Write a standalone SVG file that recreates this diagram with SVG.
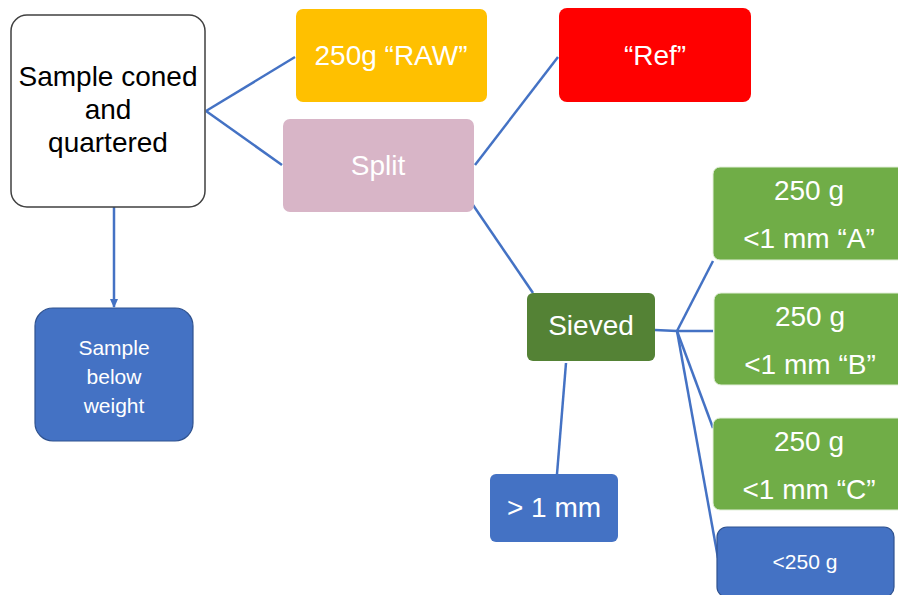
<svg xmlns="http://www.w3.org/2000/svg" width="898" height="595" viewBox="0 0 898 595">
<style>
text{font-family:"Liberation Sans",Arial,sans-serif;fill:#fff;text-anchor:middle}
.big{font-size:28px}
.sm{font-size:21px}
.blk{fill:#000}
.conn{stroke:#4472C4;stroke-width:2.5;fill:none}
</style>
<defs>
<marker id="ah" markerWidth="10" markerHeight="10" refX="8" refY="5" orient="auto" markerUnits="userSpaceOnUse">
<path d="M0,1 L9,5 L0,9 Z" fill="#4472C4"/>
</marker>
</defs>
<rect width="898" height="595" fill="#fff"/>
<g id="connectors">
<line class="conn" x1="206" y1="111" x2="295" y2="57"/>
<line class="conn" x1="206" y1="111" x2="282" y2="165"/>
<line class="conn" x1="475" y1="165" x2="558" y2="57"/>
<line class="conn" x1="473" y1="205" x2="533" y2="293"/>
<line class="conn" x1="114" y1="207" x2="114" y2="307" marker-end="url(#ah)"/>
<line class="conn" x1="566" y1="363" x2="557" y2="474"/>
<polyline class="conn" points="655,330 677,331 713,331"/>
<line class="conn" x1="677" y1="331" x2="713" y2="261"/>
<line class="conn" x1="677" y1="331" x2="713" y2="428"/>
<line class="conn" x1="677" y1="331" x2="718" y2="558"/>
</g>
<g id="n-coned">
<rect x="11" y="15" width="194" height="192" rx="16" fill="#fff" stroke="#404040" stroke-width="1.5"/>
<text class="big blk" x="108" y="86">Sample coned</text>
<text class="big blk" x="108" y="119">and</text>
<text class="big blk" x="108" y="152">quartered</text>
</g>
<g id="n-raw">
<rect x="296" y="9" width="191" height="93" rx="7" fill="#FFC000"/>
<text class="big" x="391" y="65">250g “RAW”</text>
</g>
<g id="n-split">
<rect x="283" y="119" width="191" height="93" rx="7" fill="#D8B5C7"/>
<text class="big" x="378" y="175">Split</text>
</g>
<g id="n-ref">
<rect x="559" y="8" width="192" height="94" rx="8" fill="#FF0000"/>
<text class="big" x="655" y="65">“Ref”</text>
</g>
<g id="n-below">
<rect x="35" y="308" width="158" height="133" rx="18" fill="#4472C4" stroke="#2F528F" stroke-width="1.2"/>
<text class="sm" x="114" y="355">Sample</text>
<text class="sm" x="114" y="384">below</text>
<text class="sm" x="114" y="413">weight</text>
</g>
<g id="n-sieved">
<rect x="527" y="293" width="128" height="68" rx="6" fill="#548235"/>
<text class="big" x="591" y="335">Sieved</text>
</g>
<g id="n-gt1">
<rect x="490" y="474" width="128" height="68" rx="6" fill="#4472C4"/>
<text class="big" x="554" y="517">&gt; 1 mm</text>
</g>
<g id="n-a">
<rect x="713" y="167" width="192" height="93" rx="7" fill="#70AD47" stroke="#E2EFDA" stroke-width="1"/>
<text class="big" x="809" y="200">250 g</text>
<text class="big" x="809" y="248">&lt;1 mm “A”</text>
</g>
<g id="n-b">
<rect x="714" y="293" width="192" height="92" rx="7" fill="#70AD47" stroke="#E2EFDA" stroke-width="1"/>
<text class="big" x="810" y="326">250 g</text>
<text class="big" x="810" y="374">&lt;1 mm “B”</text>
</g>
<g id="n-c">
<rect x="713" y="418" width="192" height="92" rx="7" fill="#70AD47" stroke="#E2EFDA" stroke-width="1"/>
<text class="big" x="809" y="451">250 g</text>
<text class="big" x="809" y="499">&lt;1 mm “C”</text>
</g>
<g id="n-lt250">
<rect x="717" y="527" width="177" height="70" rx="10" fill="#4472C4" stroke="#2F528F" stroke-width="1.2"/>
<text class="sm" x="805" y="569">&lt;250 g</text>
</g>
</svg>
